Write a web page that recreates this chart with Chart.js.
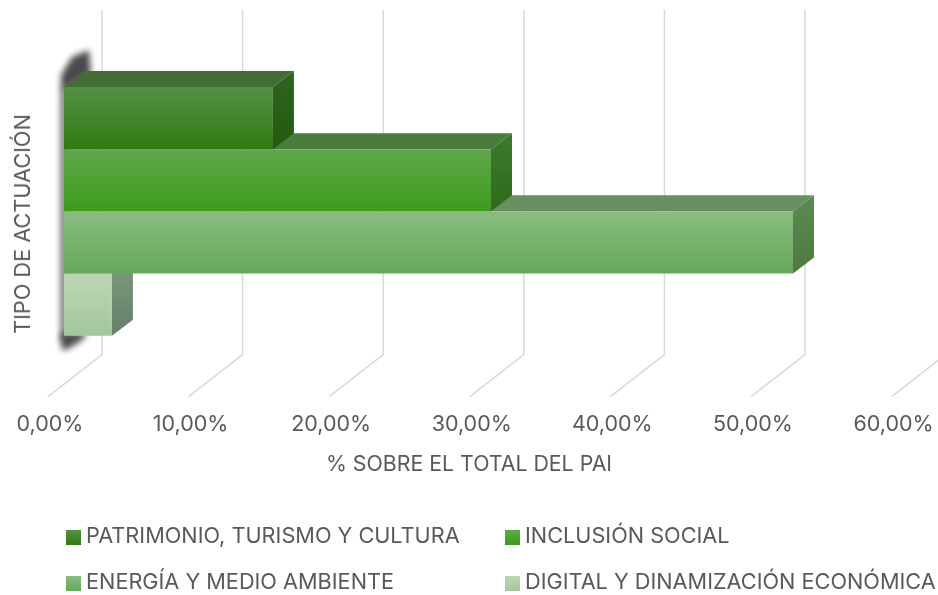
<!DOCTYPE html>
<html>
<head>
<meta charset="utf-8">
<script src="https://cdn.jsdelivr.net/npm/chart.js@4"></script>
<style>
  html, body { margin: 0; background: #fff; }
  #wrap { position: relative; width: 938px; height: 595px; overflow: hidden; font-family: Inter, sans-serif; color: #595959; }
  #ytitle { position: absolute; left: 22px; top: 224px; font-size: 21.7px; white-space: nowrap; transform: translate(-50%, -50%) rotate(-90deg); }
  .leg { position: absolute; font-size: 21.7px; line-height: 26px; white-space: nowrap; }
  .leg i { position: absolute; left: -20px; top: 8px; width: 15px; height: 15px; }
</style>
</head>
<body>
<div id="wrap">
  <canvas id="chart" width="938" height="595"></canvas>
  <div id="ytitle">TIPO DE ACTUACIÓN</div>
</div>
<script>
const categories = ['TIPO DE ACTUACIÓN'];
const seriesNames = ['PATRIMONIO, TURISMO Y CULTURA', 'INCLUSIÓN SOCIAL', 'ENERGÍA Y MEDIO AMBIENTE', 'DIGITAL Y DINAMIZACIÓN ECONÓMICA'];
const patrimonio = [14.86];
const inclusion = [30.37];
const energia = [51.85];
const digital = [3.41];
const tickValues = [0, 10, 20, 30, 40, 50, 60];

// front gradient (top, bottom), top face, side face (top, bottom)
const faces = [
  { a: '#558f47', b: '#2e7c10', top: '#436c36', s1: '#2f6420', s2: '#235a0c' },
  { a: '#60a84c', b: '#3d9b1b', top: '#4a7c3d', s1: '#3e7a2e', s2: '#2f6a1a' },
  { a: '#89bd80', b: '#65a859', top: '#688f5f', s1: '#5d8a53', s2: '#4c7a40' },
  { a: '#bcd6b4', b: '#a5c79c', top: '#7f9a79', s1: '#7f9a79', s2: '#66806a' }
];

const DX = 21, DY = -16;     // depth of the bars
const WALL_X = 38, WALL_Y = -42 ; // back wall offset from the front plane
const CAT_PCT = 0.671;

function frontGradient(c) {
  const f = faces[c.datasetIndex];
  const { chart } = c;
  const y = chart.scales.y;
  if (!y || !isFinite(y.top) || !isFinite(y.bottom)) return f.b;
  const band = (y.bottom - y.top) * CAT_PCT / 4;
  const top = (y.top + y.bottom) / 2 - 2 * band + c.datasetIndex * band;
  const g = chart.ctx.createLinearGradient(0, top, 0, top + band);
  g.addColorStop(0, f.a);
  g.addColorStop(1, f.b);
  return g;
}

function poly(ctx, pts, fill) {
  ctx.beginPath();
  pts.forEach((p, i) => i ? ctx.lineTo(p[0], p[1]) : ctx.moveTo(p[0], p[1]));
  ctx.closePath();
  ctx.fillStyle = fill;
  ctx.fill();
}

const box3d = {
  id: 'box3d',
  beforeDatasetsDraw(chart) {
    const { ctx, chartArea: area, scales } = chart;
    const x = scales.x;

    // back wall and floor lines
    ctx.save();
    ctx.strokeStyle = '#d9d9d9';
    ctx.lineWidth = 1.5;
    tickValues.forEach(v => {
      const px = x.getPixelForValue(v) + WALL_X;
      ctx.beginPath();
      ctx.moveTo(px, area.top + DY);
      ctx.lineTo(px, area.bottom + WALL_Y);
      ctx.lineTo(px - 54, area.bottom);
      ctx.stroke();
    });
    ctx.restore();

    const els = chart.data.datasets.map((d, i) => chart.getDatasetMeta(i).data[0]);
    const x0 = x.getPixelForValue(0);
    const first = els[0], last = els[els.length - 1];
    const top = first.y - first.height / 2, bottom = last.y + last.height / 2;

    // blurred shadow of the category wall
    ctx.save();
    ctx.filter = 'blur(3px)';
    poly(ctx, [[x0 - 3, top], [x0 - 3, top - 12], [x0 + 8, top - 30], [x0 + 25, top - 37], [x0 + 27, top - 14], [x0, top + 4]], '#4a4a4e');
    poly(ctx, [[x0 - 3, top], [x0 + 2, top], [x0 + 2, bottom + 6], [x0 - 3, bottom + 6]], '#4a4a4e');
    poly(ctx, [[x0 - 3, bottom - 3], [x0 + 22, bottom - 3], [x0 + 20, bottom + 3], [x0 + 6, bottom + 12], [x0 - 2, bottom + 15]], '#4a4a4e');
    ctx.restore();

    // depth faces, lowest bar first so upper ones sit in front
    for (let i = els.length - 1; i >= 0; i--) {
      const el = els[i], f = faces[i];
      const t = el.y - el.height / 2, b = el.y + el.height / 2;
      poly(ctx, [[el.base, t], [el.base + DX, t + DY], [el.x + DX, t + DY], [el.x, t]], f.top);
      const g = ctx.createLinearGradient(0, t + DY, 0, b);
      g.addColorStop(0, f.s1);
      g.addColorStop(1, f.s2);
      poly(ctx, [[el.x, t], [el.x + DX, t + DY], [el.x + DX, b + DY], [el.x, b]], g);
    }
  }
};

const seriesData = [patrimonio, inclusion, energia, digital];

new Chart(document.getElementById('chart'), {
  type: 'bar',
  data: {
    labels: categories,
    datasets: seriesNames.map((name, i) => ({
      label: name,
      data: seriesData[i],
      backgroundColor: frontGradient,
      borderWidth: 0,
      categoryPercentage: CAT_PCT,
      barPercentage: 1
    }))
  },
  plugins: [box3d],
  options: {
    indexAxis: 'y',
    responsive: false,
    animation: false,
    layout: { padding: { left: 30.4, right: 30.4, top: 26, bottom: 117.4 } },
    plugins: {
      legend: { display: false },
      tooltip: { enabled: false },
      title: {
        display: true,
        position: 'bottom',
        text: '% SOBRE EL TOTAL DEL PAI',
        color: '#595959',
        font: { family: 'Inter', size: 21.3, weight: 'normal' },
        padding: { top: 13.4, bottom: 0 }
      }
    },
    scales: {
      x: { display: false, min: 0, max: 60 },
      // labels sit a little left of the bars' zero, so they get their own shifted axis
      xLabels: {
        type: 'linear',
        axis: 'x',
        position: 'bottom',
        min: 1,
        max: 61,
        afterBuildTicks: s => { s.ticks = tickValues.map(v => ({ value: v })); },
        afterFit: s => { s.height = 42; s.paddingLeft = 0; s.paddingRight = 0; },
        grid: { display: false, drawTicks: false },
        border: { display: false },
        ticks: {
          autoSkip: false,
          maxRotation: 0,
          padding: 15,
          color: '#595959',
          font: { family: 'Inter', size: 21.5 },
          callback: v => v.toFixed(2).replace('.', ',') + '%'
        }
      },
      y: {
        afterFit: s => { s.width = 33.6; },
        ticks: { display: false },
        grid: { display: false },
        border: { display: false }
      }
    }
  }
});

// two-column legend
const legendPos = [[86, 522], [525, 522], [86, 568], [525, 568]];
seriesNames.forEach((name, i) => {
  const d = document.createElement('div');
  d.className = 'leg';
  d.style.left = legendPos[i][0] + 'px';
  d.style.top = legendPos[i][1] + 'px';
  d.textContent = name;
  const sw = document.createElement('i');
  sw.style.background = `linear-gradient(${faces[i].a}, ${faces[i].b})`;
  d.appendChild(sw);
  document.getElementById('wrap').appendChild(d);
});
</script>
</body>
</html>
